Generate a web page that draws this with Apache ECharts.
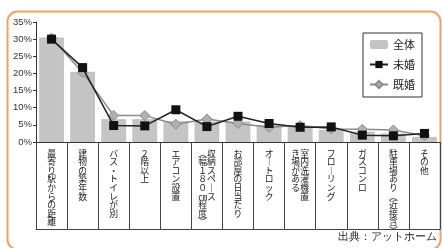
<!DOCTYPE html>
<html><head><meta charset="utf-8">
<script src="https://cdn.jsdelivr.net/npm/echarts@6/dist/echarts.min.js"></script>
<style>html,body{margin:0;padding:0;background:#fff;}#c{width:442px;height:248px;}</style>
</head><body><div id="c"></div>
<script>
var categories = ['最寄り駅からの距離', '建物の築年数', 'バス・トイレが別', '2階以上', 'エアコン設置', '収納スペース（幅180cm程度）', 'お部屋の日当たり', 'オートロック', '室内洗濯機置き場がある', 'フローリング', 'ガスコンロ', '駐車場あり（近接含）', 'その他'];
// two-column vertical labels: [right column, left column]
var labelColumns = {
  '収納スペース（幅180cm程度）': ['収納スペース', '（幅１８０㎝程度）'],
  '室内洗濯機置き場がある': ['室内洗濯機置', 'き場がある']
};
var seriesNames = ['全体', '未婚', '既婚'];
var total = [30.5, 20.5, 6.7, 6.7, 6.1, 6.0, 6.0, 5.0, 4.5, 3.5, 3.0, 2.5, 1.5];
var single = [30.0, 21.7, 4.8, 4.7, 9.4, 4.5, 7.5, 5.4, 4.3, 4.4, 2.0, 1.8, 2.5];
var married = [30.3, 20.3, 7.7, 7.7, 5.2, 6.7, 5.4, 4.3, 4.8, 3.8, 3.7, 3.5, 1.8];
var yTicks = [0, 5, 10, 15, 20, 25, 30, 35];
var sourceText = '出典：アットホーム';

function vchars(s) {
  return Array.from(s.replace(/ー/g, '｜').replace(/（/g, '︵').replace(/）/g, '︶').replace(/2/g, '２'));
}
function verticalLabel(name) {
  if (labelColumns[name]) {
    var r = vchars(labelColumns[name][0]), l = vchars(labelColumns[name][1]);
    var n = Math.max(r.length, l.length), rows = [];
    for (var i = 0; i < n; i++) rows.push((l[i] || '　') + (r[i] || '　'));
    return rows.join('\n');
  }
  return vchars(name).join('\n');
}

var chart = echarts.init(document.getElementById('c'), null, {renderer: 'canvas'});
var font = '"Noto Sans CJK JP", "Noto Sans", sans-serif';
chart.setOption({
  animation: false,
  textStyle: {fontFamily: font},
  grid: {left: 36, right: 2, top: 22, bottom: 106, containLabel: false},
  legend: {
    orient: 'vertical', left: 363, top: 33,
    data: seriesNames,
    borderColor: '#333', borderWidth: 1, padding: [6, 7, 7, 6],
    itemWidth: 18, itemHeight: 9, itemGap: 9,
    textStyle: {fontSize: 11, color: '#222', fontFamily: font}
  },
  xAxis: [{
    type: 'category', data: categories, position: 'bottom',
    axisLine: {lineStyle: {color: '#333', width: 1}},
    axisTick: {show: true, length: 87, alignWithLabel: false, lineStyle: {color: '#444', width: 1}},
    axisLabel: {interval: 0, margin: 7, fontSize: 8.8, lineHeight: 8.6, color: '#222', verticalAlign: 'top', fontFamily: font,
      formatter: function (v) { return verticalLabel(v); }}
  }, {
    type: 'category', data: categories, position: 'bottom', offset: 87,
    axisLine: {show: true, lineStyle: {color: '#444', width: 1}},
    axisTick: {show: false}, axisLabel: {show: false}
  }],
  yAxis: {
    type: 'value', min: yTicks[0], max: yTicks[yTicks.length - 1], interval: 5,
    axisLine: {show: true, lineStyle: {color: '#333', width: 1}},
    axisTick: {show: true, length: 3, lineStyle: {color: '#333'}},
    splitLine: {show: false},
    axisLabel: {margin: 4, fontSize: 9.5, color: '#333', fontFamily: '"Liberation Sans", Arial, sans-serif', formatter: '{value}%'}
  },
  series: [{
    name: seriesNames[0], type: 'bar', data: total, barCategoryGap: '20%',
    itemStyle: {color: '#c6c6c6', decal: {symbol: 'rect', symbolSize: 0.5, dashArrayX: [1, 1], dashArrayY: [1, 1], color: 'rgba(150,150,150,0.5)'}}
  }, {
    name: seriesNames[1], type: 'line', data: single, symbol: 'rect', symbolSize: 9,
    lineStyle: {color: '#222', width: 1.5}, itemStyle: {color: '#111'}, z: 4
  }, {
    name: seriesNames[2], type: 'line', data: married, symbol: 'diamond', symbolSize: 10,
    lineStyle: {color: '#8a8a8a', width: 1.5}, itemStyle: {color: '#b0b0b0', borderColor: '#8a8a8a', borderWidth: 1}, z: 3
  }],
  graphic: [{
    type: 'rect', left: 5, top: 9, z: -1, silent: true,
    shape: {width: 433, height: 238, r: 10},
    style: {fill: 'none', stroke: '#f4a261', lineWidth: 2}
  }, {
    type: 'text', right: 5, top: 231,
    style: {text: sourceText, fontSize: 11, fill: '#222', font: '11px ' + font}
  }]
});
</script>
</body></html>
